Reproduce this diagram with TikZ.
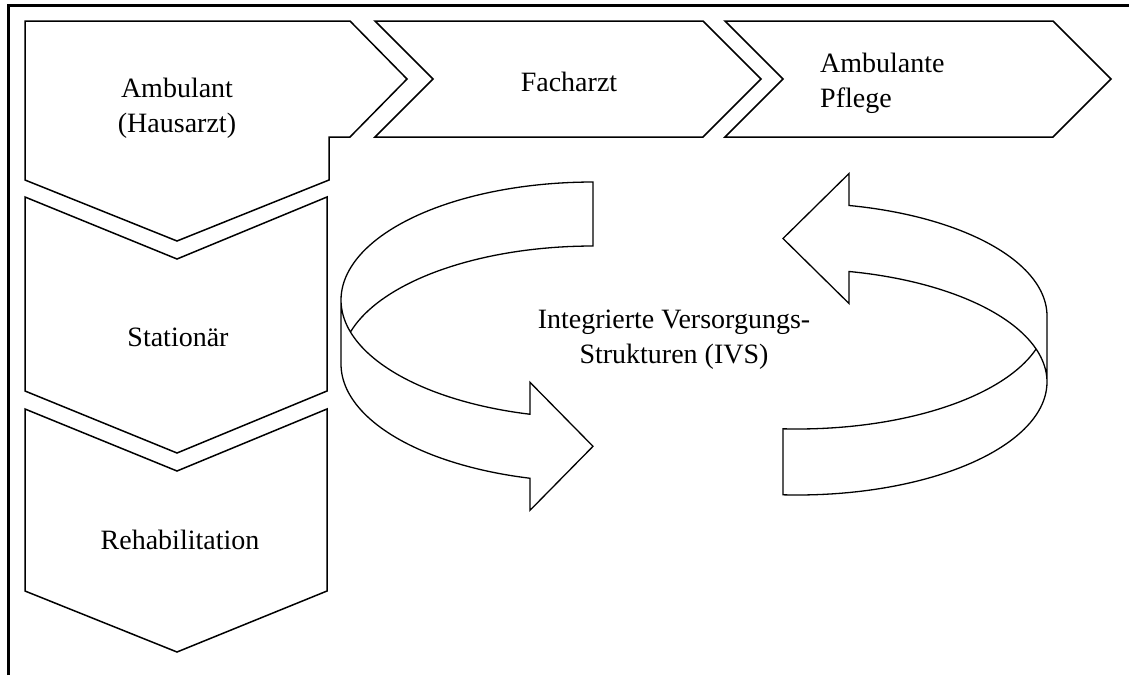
\documentclass[tikz,border=0pt]{standalone}
\usepackage{fontspec}
\setmainfont{Liberation Serif}
\newcommand\lblfont{\fontsize{28}{35}\selectfont}
\tikzset{
  frameline/.style={draw, line width=2.4pt},
  chev/.style={draw, line width=1.5pt, line join=miter},
  ribbon/.style={draw, line width=1.3pt, line join=miter},
  lbl/.style={inner sep=0pt, font=\lblfont, text=black},
}
\begin{document}
\begin{tikzpicture}[x=1pt, y=-1pt]
  \useasboundingbox (0,0) rectangle (1129,675);

  % open frame (top and left edge)
  \draw[frameline] (8.5,675) -- (8.5,5.3) -- (1129,5.3);

  % horizontal chevrons
  \draw[chev] (25,21) -- (350,21) -- (407,79) -- (350,137) -- (329,137)
              -- (329,180) -- (177,241) -- (25,180) -- cycle;
  \draw[chev] (375,21) -- (703,21) -- (761,79) -- (703,137) -- (375,137)
              -- (433,79) -- cycle;
  \draw[chev] (725,21) -- (1053,21) -- (1111,79) -- (1053,137) -- (725,137)
              -- (783,79) -- cycle;

  % vertical chevrons
  \draw[chev] (25,197) -- (177,259) -- (327,197) -- (327,391) -- (177,453)
              -- (25,391) -- cycle;
  \draw[chev] (25,409) -- (177,471) -- (327,409) -- (327,591) -- (177,652)
              -- (25,591) -- cycle;

  % left ribbon arrow: upper edge ellipse centre (593,300), lower edge (593,364)
  \draw[ribbon]
    plot[domain=195.7:270, samples=40] ({593+252*cos(\x)}, {364+118*sin(\x)})
    -- plot[domain=270:180, samples=50] ({593+252*cos(\x)}, {300+118*sin(\x)})
    -- plot[domain=180:104.48, samples=50] ({593+252*cos(\x)}, {364+118*sin(\x)})
    -- (530,510.3) -- (593,446.3) -- (530,382.3)
    -- plot[domain=104.48:180, samples=50] ({593+252*cos(\x)}, {300+118*sin(\x)});

  % right ribbon arrow: upper edge ellipse centre (797,316), lower edge (797,382)
  \draw[ribbon]
    plot[domain=17:93.2, samples=50] ({797+250*cos(\x)}, {316+113*sin(\x)})
    -- plot[domain=93.2:0, samples=50] ({797+250*cos(\x)}, {382+113*sin(\x)})
    -- plot[domain=360:282, samples=50] ({797+250*cos(\x)}, {316+113*sin(\x)})
    -- (849,173.5) -- (783,238.5) -- (849,303.5)
    -- plot[domain=282:360, samples=50] ({797+250*cos(\x)}, {382+113*sin(\x)});

  % labels
  \node[lbl, align=center] (amb) at (177,108) {Ambulant\\(Hausarzt)};
  \node[lbl, anchor=base] (fach) at (569,91) {Facharzt};
  \node[lbl, align=left, anchor=north west] (pfl) at (820,53) {Ambulante\\Pflege};
  \node[lbl, anchor=base] (stat) at (178,346) {Stationär};
  \node[lbl, anchor=base] (reha) at (180,549) {Rehabilitation};
  \node[lbl, align=center] (ivs) at (674,340) {Integrierte Versorgungs-\\Strukturen (IVS)};
\end{tikzpicture}
\end{document}
